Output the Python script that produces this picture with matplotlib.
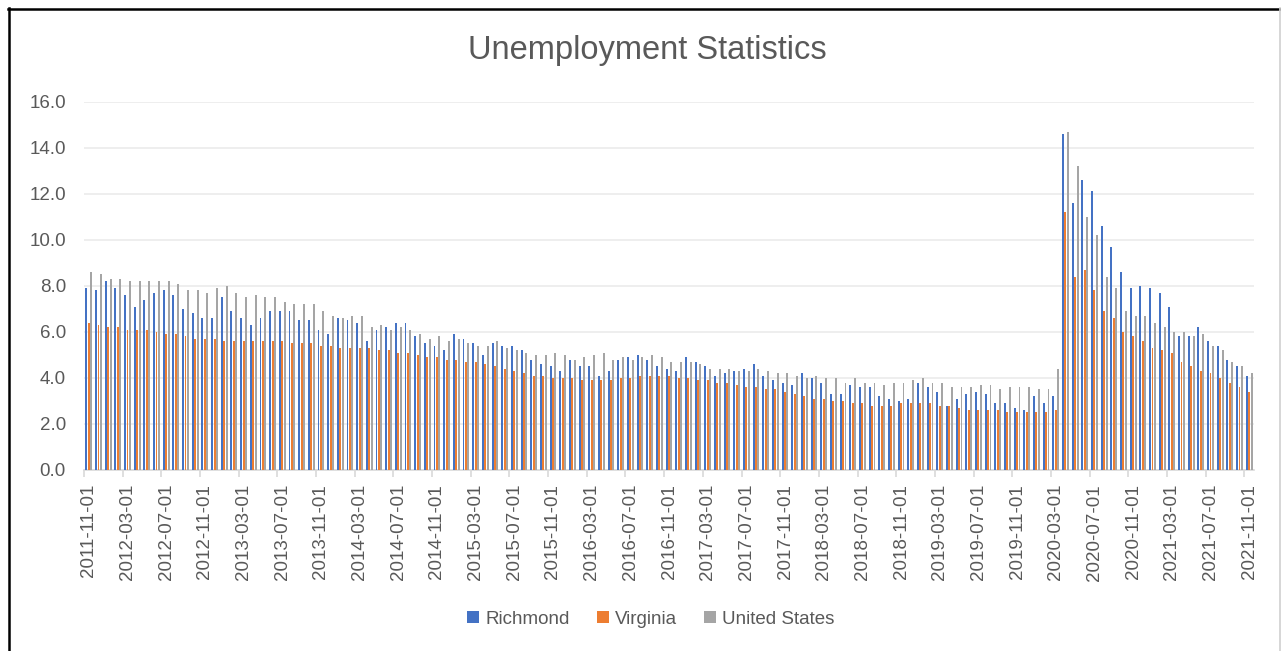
import numpy as np
import pandas as pd
import matplotlib
matplotlib.use("Agg")
import matplotlib.pyplot as plt
from matplotlib.lines import Line2D
from matplotlib.patches import Patch

plt.rcParams['font.family'] = ['Liberation Sans', 'DejaVu Sans']

months = pd.date_range("2011-11-01", periods=121, freq="MS").strftime("%Y-%m-%d").tolist()

richmond = [
    7.9, 7.8, 8.2, 7.9, 7.6, 7.1, 7.4, 7.7, 7.8, 7.6,
    7.0, 6.8, 6.6, 6.6, 7.5, 6.9, 6.6, 6.3, 6.6, 6.9,
    6.9, 6.9, 6.5, 6.5, 6.1, 5.9, 6.6, 6.5, 6.4, 5.6,
    6.1, 6.2, 6.4, 6.4, 5.8, 5.5, 5.4, 5.2, 5.9, 5.7,
    5.5, 5.0, 5.5, 5.4, 5.4, 5.2, 4.8, 4.6, 4.5, 4.3,
    4.8, 4.5, 4.5, 4.1, 4.3, 4.8, 4.9, 5.0, 4.8, 4.5,
    4.4, 4.3, 4.9, 4.7, 4.5, 4.1, 4.2, 4.3, 4.4, 4.6,
    4.1, 3.9, 3.8, 3.7, 4.2, 4.0, 3.8, 3.3, 3.3, 3.7,
    3.6, 3.6, 3.2, 3.1, 3.0, 3.1, 3.8, 3.6, 3.4, 2.8,
    3.1, 3.3, 3.4, 3.3, 2.9, 2.9, 2.7, 2.6, 3.2, 2.9,
    3.2, 14.6, 11.6, 12.6, 12.1, 10.6, 9.7, 8.6, 7.9, 8.0,
    7.9, 7.7, 7.1, 5.8, 5.8, 6.2, 5.6, 5.4, 4.8, 4.5, 4.1,
]
virginia = [
    6.4, 6.3, 6.2, 6.2, 6.1, 6.1, 6.1, 6.0, 5.9, 5.9,
    5.8, 5.7, 5.7, 5.7, 5.6, 5.6, 5.6, 5.6, 5.6, 5.6,
    5.6, 5.5, 5.5, 5.5, 5.4, 5.4, 5.3, 5.3, 5.3, 5.3,
    5.2, 5.2, 5.1, 5.1, 5.0, 4.9, 4.9, 4.8, 4.8, 4.7,
    4.7, 4.6, 4.5, 4.4, 4.3, 4.2, 4.1, 4.1, 4.0, 4.0,
    4.0, 3.9, 3.9, 3.9, 3.9, 4.0, 4.0, 4.1, 4.1, 4.1,
    4.1, 4.0, 4.0, 3.9, 3.9, 3.8, 3.8, 3.7, 3.6, 3.6,
    3.5, 3.5, 3.4, 3.3, 3.2, 3.1, 3.1, 3.0, 3.0, 2.9,
    2.9, 2.8, 2.8, 2.8, 2.9, 2.9, 2.9, 2.9, 2.8, 2.8,
    2.7, 2.6, 2.6, 2.6, 2.6, 2.5, 2.5, 2.5, 2.5, 2.5,
    2.6, 11.2, 8.4, 8.7, 7.8, 6.9, 6.6, 6.0, 5.8, 5.6,
    5.3, 5.2, 5.1, 4.7, 4.5, 4.3, 4.2, 4.0, 3.8, 3.6, 3.4,
]
united_states = [
    8.6, 8.5, 8.3, 8.3, 8.2, 8.2, 8.2, 8.2, 8.2, 8.1,
    7.8, 7.8, 7.7, 7.9, 8.0, 7.7, 7.5, 7.6, 7.5, 7.5,
    7.3, 7.2, 7.2, 7.2, 6.9, 6.7, 6.6, 6.7, 6.7, 6.2,
    6.3, 6.1, 6.2, 6.1, 5.9, 5.7, 5.8, 5.6, 5.7, 5.5,
    5.4, 5.4, 5.6, 5.3, 5.2, 5.1, 5.0, 5.0, 5.1, 5.0,
    4.8, 4.9, 5.0, 5.1, 4.8, 4.9, 4.8, 4.9, 5.0, 4.9,
    4.7, 4.7, 4.7, 4.6, 4.4, 4.4, 4.4, 4.3, 4.3, 4.4,
    4.3, 4.2, 4.2, 4.1, 4.0, 4.1, 4.0, 4.0, 3.8, 4.0,
    3.8, 3.8, 3.7, 3.8, 3.8, 3.9, 4.0, 3.8, 3.8, 3.6,
    3.6, 3.6, 3.7, 3.7, 3.5, 3.6, 3.6, 3.6, 3.5, 3.5,
    4.4, 14.7, 13.2, 11.0, 10.2, 8.4, 7.9, 6.9, 6.7, 6.7,
    6.4, 6.2, 6.0, 6.0, 5.8, 5.9, 5.4, 5.2, 4.7, 4.5, 4.2,
]

series_names = ["Richmond", "Virginia", "United States"]
colors = ["#4472C4", "#ED7D31", "#A5A5A5"]
text_color = "#595959"

W, H = 1281, 651
fig = plt.figure(figsize=(W / 100, H / 100), dpi=100)
ax = fig.add_axes([84 / W, 1 - 470 / H, (1254 - 84) / W, (470 - 101.7) / H])

x = np.arange(len(months))
step = 0.25
bw = 0.2
for i, (vals, c) in enumerate(zip([richmond, virginia, united_states], colors)):
    ax.bar(x + (i - 1) * step, vals, width=bw, color=c, linewidth=0, zorder=3)

ax.set_xlim(-0.5, len(months) - 0.5)
ax.set_ylim(0, 16)
ax.set_yticks(np.arange(0, 16.1, 2))
ax.set_yticklabels([f"{v:.1f}" for v in np.arange(0, 16.1, 2)])
ax.yaxis.grid(True, color="#ebebeb", linewidth=1.2, zorder=0)
ax.tick_params(axis="y", length=0, pad=13, labelsize=13.5, labelcolor=text_color)

ax.set_xticks(x[::4])
ax.set_xticklabels(months[::4], rotation=90)
ax.set_xticks(np.arange(-0.5, len(months), 4), minor=True)
ax.tick_params(axis="x", which="major", length=0, pad=10, labelsize=13.5, labelcolor=text_color)
ax.tick_params(axis="x", which="minor", length=5, width=1.2, color="#d9d9d9")

for s in ["top", "right", "left"]:
    ax.spines[s].set_visible(False)
ax.spines["bottom"].set_color("#d9d9d9")
ax.spines["bottom"].set_linewidth(1.2)

fig.text(647 / W, 1 - 50 / H, "Unemployment Statistics", ha="center", va="center",
         fontsize=23.5, color=text_color)

handles = [Patch(facecolor=c, edgecolor="none") for c in colors]
fig.legend(handles, series_names, loc="center", bbox_to_anchor=(651 / W, 1 - 619 / H),
           ncol=3, frameon=False, fontsize=13.5, handlelength=0.65, handleheight=0.65,
           handletextpad=0.35, columnspacing=1.4, labelcolor=text_color)

# outer frame of the chart box
fig.add_artist(Line2D([8.5 / W, 8.5 / W], [0, 1 - 8 / H], color="black", linewidth=1.8))
fig.add_artist(Line2D([8 / W, 1], [1 - 8.5 / H, 1 - 8.5 / H], color="black", linewidth=1.8))
fig.add_artist(Line2D([1279.5 / W, 1279.5 / W], [0, 1 - 8 / H], color="#d0d0d0", linewidth=1.2))

fig.savefig("out.png", dpi=100)
